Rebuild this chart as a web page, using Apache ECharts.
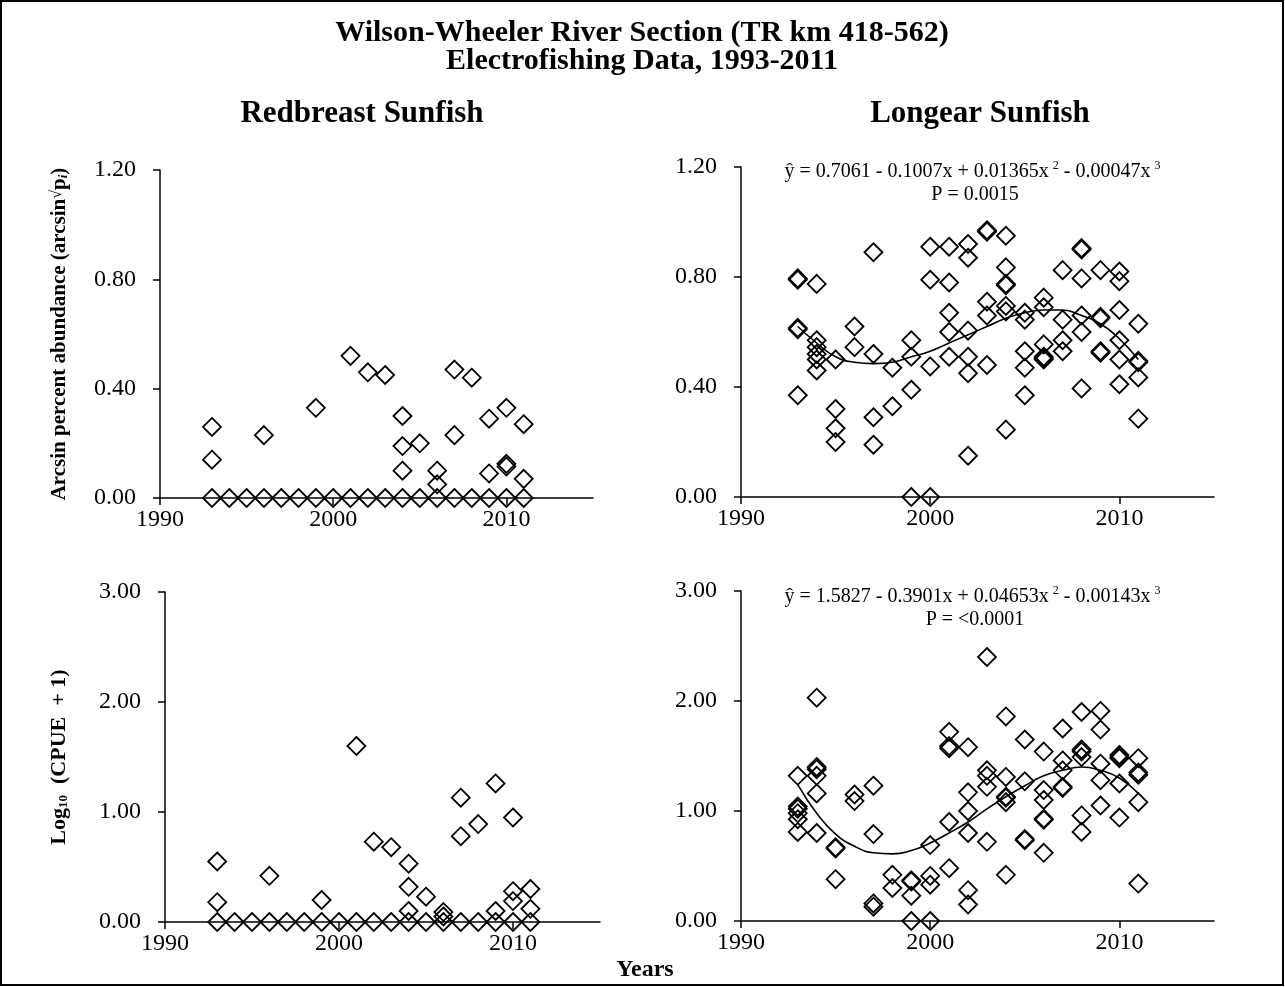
<!DOCTYPE html>
<html><head><meta charset="utf-8">
<script src="https://cdn.jsdelivr.net/npm/echarts@6/dist/echarts.min.js"></script>
<style>html,body{margin:0;padding:0;background:#fff}#c{width:1285px;height:987px}</style>
</head><body><div id="c"></div><script>
// ---- data (year, value) ----
const redbreastAbundance = [
  [1993,0],[1994,0],[1995,0],[1996,0],[1997,0],[1998,0],[1999,0],[2000,0],[2001,0],[2002,0],
  [2003,0],[2004,0],[2005,0],[2006,0],[2007,0],[2008,0],[2009,0],[2010,0],[2011,0],
  [1993,0.26],[1993,0.14],[1996,0.23],[1999,0.33],[2001,0.52],[2002,0.46],[2003,0.45],
  [2004,0.30],[2004,0.19],[2004,0.10],[2005,0.20],[2006,0.10],[2006,0.05],
  [2007,0.47],[2007,0.23],[2008,0.44],[2009,0.29],[2009,0.09],
  [2010,0.33],[2010,0.125],[2010,0.115],[2011,0.27],[2011,0.07]
];
const redbreastCpue = [
  [1993,0],[1994,0],[1995,0],[1996,0],[1997,0],[1998,0],[1999,0],[2000,0],[2001,0],[2002,0],
  [2003,0],[2004,0],[2005,0],[2006,0],[2007,0],[2008,0],[2009,0],[2010,0],[2011,0],
  [1993,0.55],[1993,0.18],[1996,0.42],[1999,0.20],[2001,1.60],[2002,0.73],[2003,0.68],
  [2004,0.53],[2004,0.32],[2004,0.10],[2005,0.23],[2006,0.09],[2006,0.05],
  [2007,1.13],[2007,0.78],[2008,0.89],[2009,1.26],[2009,0.10],
  [2010,0.95],[2010,0.28],[2010,0.19],[2011,0.30],[2011,0.12]
];
const longearAbundance = [
  [1993,0.79],[1993,0.795],[1993,0.61],[1993,0.615],[1993,0.37],
  [1994,0.775],[1994,0.57],[1994,0.545],[1994,0.52],[1994,0.50],[1994,0.46],
  [1995,0.50],[1995,0.32],[1995,0.25],[1995,0.20],
  [1996,0.62],[1996,0.545],
  [1997,0.89],[1997,0.52],[1997,0.29],[1997,0.19],
  [1998,0.47],[1998,0.33],
  [1999,0.57],[1999,0.51],[1999,0.39],[1999,0.00],
  [2000,0.91],[2000,0.79],[2000,0.475],[2000,0.00],
  [2001,0.91],[2001,0.78],[2001,0.67],[2001,0.60],[2001,0.51],
  [2002,0.92],[2002,0.87],[2002,0.605],[2002,0.51],[2002,0.45],[2002,0.15],
  [2003,0.97],[2003,0.965],[2003,0.71],[2003,0.66],[2003,0.48],
  [2004,0.95],[2004,0.835],[2004,0.775],[2004,0.77],[2004,0.695],[2004,0.675],[2004,0.245],
  [2005,0.67],[2005,0.645],[2005,0.53],[2005,0.47],[2005,0.37],
  [2006,0.725],[2006,0.69],[2006,0.555],[2006,0.51],[2006,0.505],[2006,0.50],
  [2007,0.825],[2007,0.645],[2007,0.57],[2007,0.53],
  [2008,0.905],[2008,0.90],[2008,0.795],[2008,0.66],[2008,0.60],[2008,0.395],
  [2009,0.825],[2009,0.655],[2009,0.65],[2009,0.53],[2009,0.525],
  [2010,0.82],[2010,0.785],[2010,0.68],[2010,0.57],[2010,0.50],[2010,0.41],
  [2011,0.63],[2011,0.495],[2011,0.49],[2011,0.435],[2011,0.285]
];
const longearCpue = [
  [1993,1.32],[1993,1.04],[1993,1.02],[1993,0.98],[1993,0.925],[1993,0.81],
  [1994,2.03],[1994,1.40],[1994,1.38],[1994,1.32],[1994,1.16],[1994,0.80],
  [1995,0.67],[1995,0.66],[1995,0.38],
  [1996,1.15],[1996,1.09],
  [1997,1.23],[1997,0.79],[1997,0.16],[1997,0.13],
  [1998,0.42],[1998,0.30],
  [1999,0.37],[1999,0.36],[1999,0.23],[1999,0.00],
  [2000,0.69],[2000,0.41],[2000,0.33],[2000,0.00],
  [2001,1.72],[2001,1.59],[2001,1.57],[2001,0.90],[2001,0.48],
  [2002,1.58],[2002,1.17],[2002,1.00],[2002,0.80],[2002,0.28],[2002,0.15],
  [2003,2.40],[2003,1.37],[2003,1.32],[2003,1.22],[2003,0.72],
  [2004,1.86],[2004,1.31],[2004,1.13],[2004,1.12],[2004,1.08],[2004,0.42],
  [2005,1.65],[2005,1.27],[2005,0.745],[2005,0.735],
  [2006,1.54],[2006,1.19],[2006,1.10],[2006,0.93],[2006,0.92],[2006,0.62],
  [2007,1.75],[2007,1.46],[2007,1.37],[2007,1.22],[2007,1.21],
  [2008,1.90],[2008,1.56],[2008,1.54],[2008,1.49],[2008,0.96],[2008,0.81],
  [2009,1.91],[2009,1.74],[2009,1.43],[2009,1.28],[2009,1.05],
  [2010,1.51],[2010,1.49],[2010,1.48],[2010,1.25],[2010,0.94],
  [2011,1.48],[2011,1.35],[2011,1.33],[2011,1.08],[2011,0.34]
];
const trendYears = [1993,1994,1995,1996,1997,1998,1999,2000,2001,2002,2003,2004,2005,2006,2007,2008,2009,2010,2011];
const longearAbundanceTrend = [0.62,0.56,0.51,0.49,0.485,0.49,0.51,0.53,0.56,0.59,0.62,0.65,0.67,0.68,0.68,0.66,0.63,0.575,0.50];
const longearCpueTrend = [1.24,0.98,0.79,0.68,0.62,0.61,0.64,0.71,0.80,0.90,1.02,1.13,1.23,1.32,1.37,1.40,1.37,1.30,1.16];
const xTicks = [1990, 2000, 2010];
const panelTitles = ['Redbreast Sunfish', 'Longear Sunfish'];
const eqAbundance = ['0.7061 - 0.1007x + 0.01365x', '- 0.00047x', 'P = 0.0015'];
const eqCpue = ['1.5827 - 0.3901x + 0.04653x', '- 0.00143x', 'P = <0.0001'];

const FF = "'Liberation Serif','Times New Roman',serif";
const chart = echarts.init(document.getElementById('c'), null, {renderer: 'canvas'});

const grids = [
  {left: 160, top: 170, width: 433, height: 328},
  {left: 741, top: 167, width: 473, height: 330},
  {left: 165, top: 592, width: 435, height: 330},
  {left: 741, top: 591, width: 473, height: 330}
];

function xAx(i) {
  return {
    gridIndex: i, type: 'value', min: 1990, max: 2015, interval: 10,
    axisLine: {show: true, onZero: false, lineStyle: {color: '#000', width: 1.5}},
    axisTick: {show: true, length: 7, customValues: xTicks, lineStyle: {color: '#000', width: 1.5}},
    axisLabel: {customValues: xTicks, color: '#000', fontFamily: FF, fontSize: 24, margin: 10,
      formatter: v => (v === 2015 ? '' : String(v))},
    splitLine: {show: false}
  };
}
function yAx(i, max, interval, name) {
  const o = {
    gridIndex: i, type: 'value', min: 0, max: max, interval: interval,
    axisLine: {show: true, lineStyle: {color: '#000', width: 1.5}},
    axisTick: {show: true, length: 7, lineStyle: {color: '#000', width: 1.5}},
    axisLabel: {color: '#000', fontFamily: FF, fontSize: 24, margin: 24, formatter: v => v.toFixed(2)},
    splitLine: {show: false}
  };
  if (name) {
    o.name = name.text;
    o.nameLocation = 'middle';
    o.nameRotate = 90;
    o.nameGap = name.gap;
    o.nameTextStyle = {color: '#000', fontFamily: FF, fontWeight: 'bold', fontSize: 21, rich: name.rich};
  }
  return o;
}

const rich1 = {
  b: {fontFamily: FF, fontWeight: 'bold', fontSize: 21, color: '#000'},
  r: {fontFamily: FF, fontWeight: 'bold', fontSize: 16, color: '#000', verticalAlign: 'top'},
  p: {fontFamily: FF, fontWeight: 'bold', fontSize: 21, color: '#000'},
  s: {fontFamily: FF, fontWeight: 'bold', fontStyle: 'italic', fontSize: 13, color: '#000', verticalAlign: 'bottom'}
};
const rich2 = {
  b: {fontFamily: FF, fontWeight: 'bold', fontSize: 22, color: '#000'},
  s: {fontFamily: FF, fontWeight: 'bold', fontSize: 13, color: '#000', verticalAlign: 'bottom', padding: [8, 0, 0, 0]}
};

function scatter(i, data) {
  return {
    type: 'scatter', xAxisIndex: i, yAxisIndex: i, data: data, symbol: 'diamond', symbolSize: 18,
    clip: false, silent: true,
    itemStyle: {color: 'rgba(0,0,0,0)', borderColor: '#000', borderWidth: 1.8, opacity: 1}
  };
}
function trend(i, vals) {
  return {
    type: 'line', xAxisIndex: i, yAxisIndex: i, data: trendYears.map((y, k) => [y, vals[k]]),
    symbol: 'none', smooth: true, silent: true, lineStyle: {color: '#000', width: 1.6}
  };
}

function eqRich(eq) {
  return {
    text: '{n|ŷ = ' + eq[0] + '}{u|2}{n|' + eq[1] + '}{u|3}\n{n|' + eq[2] + '}',
    rich: {
      n: {fontFamily: FF, fontSize: 20, fill: '#000', lineHeight: 23},
      u: {fontFamily: FF, fontSize: 12, fill: '#000', verticalAlign: 'top', lineHeight: 23, padding: [0, 5, 0, 4]}
    }
  };
}

const eqA = eqRich(eqAbundance), eqC = eqRich(eqCpue);

const option = {
  backgroundColor: '#fff',
  animation: false,
  grid: grids,
  xAxis: [xAx(0), xAx(1), xAx(2), xAx(3)],
  yAxis: [
    yAx(0, 1.2, 0.4, {text: '{b|Arcsin percent abundance (arcsin}{r|√}{p|p}{s|i}{b|)}', gap: 90, rich: rich1}),
    yAx(1, 1.2, 0.4),
    yAx(2, 3, 1, {text: '{b|Log}{s|10}{b|  (CPUE  + 1)}', gap: 95, rich: rich2}),
    yAx(3, 3, 1)
  ],
  series: [
    scatter(0, redbreastAbundance),
    scatter(1, longearAbundance), trend(1, longearAbundanceTrend),
    scatter(2, redbreastCpue),
    scatter(3, longearCpue), trend(3, longearCpueTrend)
  ],
  graphic: [
    {type: 'rect', shape: {x: 1, y: 1, width: 1282, height: 984}, style: {fill: 'none', stroke: '#000', lineWidth: 2}},
    {type: 'text', x: 642, y: 33, style: {text: 'Wilson-Wheeler River Section (TR km 418-562)', font: 'bold 30px ' + FF, fill: '#000', align: 'center', verticalAlign: 'middle'}},
    {type: 'text', x: 642, y: 61, style: {text: 'Electrofishing Data, 1993-2011', font: 'bold 30px ' + FF, fill: '#000', align: 'center', verticalAlign: 'middle'}},
    {type: 'text', x: 362, y: 114, style: {text: panelTitles[0], font: 'bold 31px ' + FF, fill: '#000', align: 'center', verticalAlign: 'middle'}},
    {type: 'text', x: 980, y: 114, style: {text: panelTitles[1], font: 'bold 31px ' + FF, fill: '#000', align: 'center', verticalAlign: 'middle'}},
    {type: 'text', x: 645, y: 970, style: {text: 'Years', font: 'bold 24px ' + FF, fill: '#000', align: 'center', verticalAlign: 'middle'}},
    {type: 'text', x: 975, y: 183, style: {text: eqA.text, rich: eqA.rich, align: 'center', verticalAlign: 'middle', fill: '#000', font: '20px ' + FF}},
    {type: 'text', x: 975, y: 608, style: {text: eqC.text, rich: eqC.rich, align: 'center', verticalAlign: 'middle', fill: '#000', font: '20px ' + FF}}
  ]
};
chart.setOption(option);
</script></body></html>
